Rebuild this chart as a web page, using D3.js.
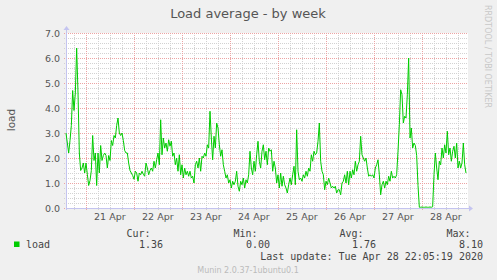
<!DOCTYPE html>
<html>
<head>
<meta charset="utf-8">
<script src="https://cdn.jsdelivr.net/npm/d3@7"></script>
<style>
  html, body { margin: 0; padding: 0; background: #f0f0f0; }
  svg { display: block; }
</style>
</head>
<body>
<svg id="chart" width="497" height="280"></svg>
<script>
// load average, one value every 40 minutes
const loadValues = [
    3.0, 2.6, 2.2, 2.7, 3.3, 4.7, 3.9, 4.6, 6.4, 4.6, 2.2, 1.5,
    1.6, 1.8, 1.4, 1.8, 1.35, 0.9, 1.1, 1.5,
    2.9, 1.9, 2.2, 0.9, 2.2, 1.4, 2.5, 1.9, 2.1, 2.2,
    2.1, 1.6, 2.1, 1.9, 2.7, 2.5, 2.9, 2.8, 3.3, 3.6,
    3.0, 2.9, 3.0, 2.7, 2.3, 2.2, 2.2, 1.8, 1.5, 1.4,
    1.3, 1.15, 1.47, 1.4, 1.07, 1.4, 1.33, 1.47, 1.35, 1.27,
    1.8, 1.6, 1.33, 1.5, 1.6, 1.47, 1.87, 1.6, 1.93, 2.2,
    1.73, 3.53, 2.13, 2.8, 2.4, 2.6, 2.27, 2.73, 2.47, 2.67,
    2.07, 2.2, 1.73, 2.0, 1.47, 2.13, 1.33, 1.73, 1.2, 1.6,
    1.33, 1.47, 1.27, 1.47, 1.2, 1.27, 1.0, 1.73, 1.87, 1.6,
    2.0, 1.47, 2.07, 2.0, 2.2, 2.07, 2.53, 2.4, 3.87, 2.8,
    1.93, 2.87, 2.4, 3.4, 3.2, 2.53, 2.07, 2.33, 1.73, 1.47,
    1.2, 1.33, 1.0, 1.13, 0.8, 1.07, 0.93, 1.07, 1.47, 0.87,
    0.67, 1.07, 0.93, 1.2, 0.8, 1.13, 1.0, 1.33, 2.27, 1.6,
    1.33, 1.87, 1.47, 2.13, 2.67, 1.87, 1.6, 2.27, 2.53, 1.93,
    2.27, 1.73, 2.4, 2.27, 2.33, 1.47, 1.87, 1.6, 1.0, 1.33,
    0.8, 1.4, 0.87, 1.27, 0.93, 0.8, 0.6, 0.93, 1.2, 0.93,
    1.33, 1.67, 0.93, 3.13, 1.47, 1.13, 1.2, 1.07, 1.33, 1.2,
    1.47, 1.27, 1.6, 1.47, 2.13, 1.87, 2.27, 2.13, 2.2, 2.67,
    3.4, 1.87, 1.47, 1.33, 0.73, 1.07, 0.93, 1.2, 1.0, 0.8,
    0.87, 0.8, 0.87, 0.6, 0.73, 0.73, 0.53, 1.0, 1.07, 1.33,
    1.0, 1.47, 0.93, 1.47, 1.2, 1.53, 1.33, 1.87, 1.47, 1.73,
    1.87, 2.87, 2.13, 2.0, 1.87, 2.0, 1.6, 1.27, 1.33, 1.27,
    1.33, 1.2, 1.6, 1.73, 1.93, 1.33, 0.53, 0.93, 1.07, 0.8,
    1.07, 0.93, 1.27, 1.07, 1.47, 1.2, 1.27, 1.2, 1.33, 2.27,
    3.33, 4.73, 4.53, 3.4, 3.67, 3.6, 4.53, 6.0, 2.8, 3.2,
    2.4, 2.6, 2.5, 2.1, 0.9, 0.03, 0.03, 0.04, 0.03, 0.03,
    0.04, 0.03, 0.03, 0.04, 0.03, 0.05, 1.33, 2.2, 1.6, 1.13,
    1.87, 1.73, 2.4, 2.0, 2.53, 2.2, 3.07, 2.13, 2.4, 1.87,
    2.27, 2.47, 2.0, 2.6, 1.6, 1.87, 1.6, 1.8, 2.6, 1.73,
    1.4
];
const startTime   = Date.UTC(2020, 3, 20, 14, 5);
const stepMinutes = 40;

const yTicks     = [0, 1, 2, 3, 4, 5, 6, 7];
const dayLabels  = ['21 Apr', '22 Apr', '23 Apr', '24 Apr', '25 Apr', '26 Apr', '27 Apr', '28 Apr'];
const statLabels = ['Cur:', 'Min:', 'Avg:', 'Max:'];
const statValues = ['1.36', '0.00', '1.76', '8.10'];
const seriesName = 'load';
const lastUpdate = 'Last update: Tue Apr 28 22:05:19 2020';

const W = 497, H = 280;
const plot = { left: 66, right: 466, top: 33, bottom: 208 };
const cGrid = '#d2d2d2', cMGrid = '#eca4a4', cAxis = '#c4c4f0', cText = '#555';
const mono = '"DejaVu Sans Mono", monospace';
const sans = '"DejaVu Sans", sans-serif';

const svg = d3.select('#chart');
svg.append('rect').attr('width', W).attr('height', H).attr('fill', '#f0f0f0');

const points = loadValues.map((v, i) => ({ t: new Date(startTime + i * stepMinutes * 60000), v }));
const tEnd   = points[points.length - 1].t;

const x = d3.scaleUtc().domain([points[0].t, tEnd]).range([plot.left, plot.right]);
const y = d3.scaleLinear().domain([0, 7]).range([plot.bottom, plot.top]);
const px = v => Math.round(v) + 0.5;

// canvas
svg.append('rect')
    .attr('x', plot.left).attr('y', plot.top)
    .attr('width', plot.right - plot.left + 2).attr('height', plot.bottom - plot.top)
    .attr('fill', '#fff');

const grid = svg.append('g').attr('stroke-width', 1).attr('stroke-dasharray', '1,1').attr('fill', 'none');

// minor horizontal lines every 0.2
d3.range(0, 7.01, 0.2).filter(v => Math.abs(v - Math.round(v)) > 0.01).forEach(v => {
    grid.append('line')
        .attr('x1', plot.left - 2).attr('x2', plot.right + 2)
        .attr('y1', px(y(v))).attr('y2', px(y(v)))
        .attr('stroke', cGrid);
});
// minor vertical lines every 6 hours
d3.utcHour.every(6).range(points[0].t, tEnd)
    .filter(d => d.getUTCHours() !== 0)
    .forEach(d => {
        grid.append('line')
            .attr('x1', px(x(d))).attr('x2', px(x(d)))
            .attr('y1', plot.top).attr('y2', plot.bottom + 2)
            .attr('stroke', cGrid);
    });
// major lines
yTicks.forEach(v => {
    grid.append('line')
        .attr('x1', plot.left - 2).attr('x2', plot.right + 2)
        .attr('y1', px(y(v))).attr('y2', px(y(v)))
        .attr('stroke', cMGrid);
});
const days = d3.utcDay.range(points[0].t, tEnd);
days.forEach(d => {
    grid.append('line')
        .attr('x1', px(x(d))).attr('x2', px(x(d)))
        .attr('y1', plot.top).attr('y2', plot.bottom + 2)
        .attr('stroke', cMGrid);
});

// axes with arrows
svg.append('line')
    .attr('x1', plot.left).attr('x2', plot.right + 3)
    .attr('y1', px(y(0))).attr('y2', px(y(0)))
    .attr('stroke', cAxis);
svg.append('path')
    .attr('d', `M${plot.right + 3},${px(y(0)) - 3}L${plot.right + 7},${px(y(0))}L${plot.right + 3},${px(y(0)) + 3}Z`)
    .attr('fill', cAxis);
svg.append('line')
    .attr('x1', px(plot.left)).attr('x2', px(plot.left))
    .attr('y1', plot.bottom + 2).attr('y2', plot.top - 3)
    .attr('stroke', cAxis);
svg.append('path')
    .attr('d', `M${px(plot.left) - 3},${plot.top - 3}L${px(plot.left)},${plot.top - 7}L${px(plot.left) + 3},${plot.top - 3}Z`)
    .attr('fill', cAxis);

// series
svg.append('path').datum(points)
    .attr('fill', 'none')
    .attr('stroke', '#00cc00')
    .attr('stroke-width', 1)
    .attr('stroke-linejoin', 'round')
    .attr('d', d3.line().x(d => x(d.t)).y(d => y(d.v)));

// y tick labels
svg.append('g').selectAll('text')
    .data(yTicks)
    .join('text')
    .attr('x', 60).attr('y', d => y(d) + 3.5)
    .attr('text-anchor', 'end')
    .attr('font-family', sans).attr('font-size', 9.5)
    .attr('fill', cText)
    .text(d => d.toFixed(1));

// day labels at noon
svg.append('g').selectAll('text')
    .data(days)
    .join('text')
    .attr('x', d => x(d3.utcHour.offset(d, 12)))
    .attr('y', 220)
    .attr('text-anchor', 'middle')
    .attr('font-family', sans).attr('font-size', 9.5)
    .attr('fill', cText)
    .text((d, i) => dayLabels[i]);

// title and side texts
svg.append('text')
    .attr('x', 248).attr('y', 18).attr('text-anchor', 'middle')
    .attr('font-family', sans).attr('font-size', 13).attr('fill', cText)
    .text('Load average - by week');
svg.append('text')
    .attr('transform', 'translate(15,120) rotate(-90)')
    .attr('text-anchor', 'middle')
    .attr('font-family', sans).attr('font-size', 10.5).attr('fill', cText)
    .text('load');
svg.append('text')
    .attr('transform', 'translate(485,5) rotate(90)')
    .attr('font-family', sans).attr('font-size', 8).attr('fill', '#c8c8c8')
    .text('RRDTOOL / TOBI OETIKER');

// legend
const valueRight = [163, 270, 376, 483];
const legend = svg.append('g').attr('font-family', mono).attr('font-size', 10).attr('fill', '#444');
statLabels.forEach((s, i) => {
    legend.append('text').attr('x', valueRight[i] - 12.5).attr('y', 236.5)
        .attr('text-anchor', 'end').text(s);
    legend.append('text').attr('x', valueRight[i]).attr('y', 248)
        .attr('text-anchor', 'end').text(statValues[i]);
});
legend.append('rect')
    .attr('x', 14).attr('y', 241.5).attr('width', 5.5).attr('height', 5.5)
    .attr('fill', '#00cc00');
legend.append('text').attr('x', 26).attr('y', 248).text(seriesName);
legend.append('text').attr('x', 483).attr('y', 259.5)
    .attr('text-anchor', 'end').text(lastUpdate);

svg.append('text')
    .attr('x', 248).attr('y', 272.5).attr('text-anchor', 'middle')
    .attr('font-family', sans).attr('font-size', 8).attr('fill', '#bbb')
    .text('Munin 2.0.37-1ubuntu0.1');
</script>
</body>
</html>
